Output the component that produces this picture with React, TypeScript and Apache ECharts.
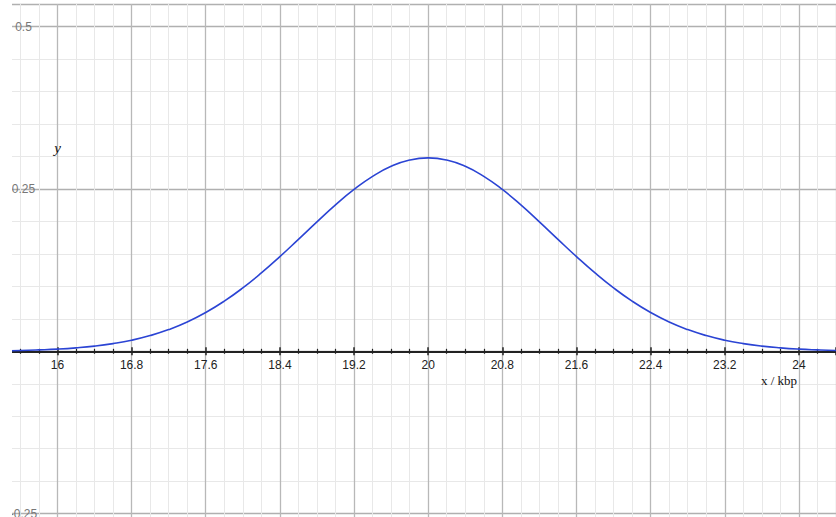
import React, { useEffect, useRef } from "react";
import * as echarts from "echarts";

// x positions (kbp) and curve values
const xValues = [
  15.4, 15.6, 15.8, 16.0, 16.2, 16.4, 16.6, 16.8, 17.0, 17.2, 17.4, 17.6,
  17.8, 18.0, 18.2, 18.4, 18.6, 18.8, 19.0, 19.2, 19.4, 19.6, 19.8, 20.0,
  20.2, 20.4, 20.6, 20.8, 21.0, 21.2, 21.4, 21.6, 21.8, 22.0, 22.2, 22.4,
  22.6, 22.8, 23.0, 23.2, 23.4, 23.6, 23.8, 24.0, 24.2, 24.4, 24.6,
];
const yValues = [
  0.0008, 0.0013, 0.0022, 0.0034, 0.0053, 0.008, 0.0119, 0.0171, 0.0242,
  0.0335, 0.0452, 0.0598, 0.0773, 0.0977, 0.1207, 0.1459, 0.1725, 0.1994,
  0.2255, 0.2493, 0.2695, 0.285, 0.2947, 0.298, 0.2947, 0.285, 0.2695,
  0.2493, 0.2255, 0.1994, 0.1725, 0.1459, 0.1207, 0.0977, 0.0773, 0.0598,
  0.0452, 0.0335, 0.0242, 0.0171, 0.0119, 0.008, 0.0053, 0.0034, 0.0022,
  0.0013, 0.0008,
];
const xTickLabels = ["16", "16.8", "17.6", "18.4", "19.2", "20", "20.8", "21.6", "22.4", "23.2", "24"];
const yTickLabels = ["0.5", "0.25", "-0.25"];
const xAxisName = "x / kbp";
const yAxisName = "y";

export default function App() {
  const ref = useRef<HTMLDivElement>(null);
  useEffect(() => {
    if (!ref.current) return;
    const chart = echarts.init(ref.current, undefined, { renderer: "svg" });
    const data = xValues.map((x, i) => [x, yValues[i]]);
    const fmtX = (v: number) => {
      const s = String(Math.round(v * 10) / 10);
      return xTickLabels.includes(s) ? s : "";
    };
    const fmtY = (v: number) => {
      const s = String(Math.round(v * 100) / 100);
      return yTickLabels.includes(s) ? s : "";
    };
    const H = 517;
    const top = 4;
    const bottom = -158.9;
    const yMin = -0.5;
    const yMax = 0.535;
    // distance from the grid's bottom edge up to the value 0
    const zeroOffset = -((H - top - bottom) * (0 - yMin)) / (yMax - yMin);
    chart.setOption({
      animation: false,
      backgroundColor: "#ffffff",
      grid: {
        left: -16.7,
        right: 0,
        top,
        bottom,
        containLabel: false,
        outerBoundsMode: "none",
      },
      xAxis: [
        {
          type: "value",
          position: "bottom",
          offset: zeroOffset,
          min: 15.2,
          max: 24.4,
          interval: 0.8,
          axisLine: { show: true, onZero: false, lineStyle: { color: "#222", width: 2 } },
          axisTick: { show: true, inside: false, length: 4, lineStyle: { color: "#222", width: 1.5 } },
          minorTick: { show: true, splitNumber: 4, length: 2.5, lineStyle: { color: "#222", width: 1.2 } },
          axisLabel: {
            show: true,
            formatter: fmtX,
            color: "#222",
            fontSize: 12,
            fontFamily: "Liberation Sans, Arial, sans-serif",
            margin: 8,
          },
          splitLine: { show: true, lineStyle: { color: "#b8b8b8", width: 1.3 } },
          minorSplitLine: { show: true, lineStyle: { color: "#e8e8e8", width: 1 } },
        },
        {
          type: "value",
          position: "bottom",
          offset: zeroOffset,
          min: 15.2,
          max: 24.4,
          interval: 0.8,
          axisLine: { show: false, onZero: false },
          axisTick: { show: true, inside: true, length: 4, lineStyle: { color: "#222", width: 1.5 } },
          minorTick: { show: true, splitNumber: 4, length: 2.5, lineStyle: { color: "#222", width: 1.2 } },
          axisLabel: { show: false },
          splitLine: { show: false },
        },
      ],
      yAxis: {
        type: "value",
        min: yMin,
        max: yMax,
        interval: 0.25,
        axisLine: { show: false, onZero: false },
        axisTick: { show: false },
        axisLabel: {
          show: true,
          inside: true,
          align: "center",
          margin: 40.2,
          formatter: fmtY,
          color: "#777",
          fontSize: 12,
          padding: [0, 0, 3, 0],
          fontFamily: "Liberation Sans, Arial, sans-serif",
        },
        splitLine: { show: true, lineStyle: { color: "#b0b0b0", width: 1.3 } },
        minorTick: { show: false, splitNumber: 5 },
        minorSplitLine: { show: true, lineStyle: { color: "#e8e8e8", width: 1 } },
      },
      series: [
        {
          type: "line",
          data,
          smooth: true,
          showSymbol: false,
          symbol: "none",
          lineStyle: { color: "#2b44d4", width: 1.6 },
          z: 3,
        },
      ],
      graphic: [
        { type: "rect", left: 0, top: 0, shape: { width: 12, height: 517 }, style: { fill: "#ffffff" }, z: 100 },
        {
          type: "text",
          x: 779,
          y: 380,
          z: 101,
          style: {
            text: xAxisName,
            fill: "#111",
            font: "13px 'Liberation Serif', 'DejaVu Serif', serif",
            textAlign: "center",
            textVerticalAlign: "middle",
          },
        },
        {
          type: "text",
          x: 57.5,
          y: 148,
          z: 101,
          style: {
            text: yAxisName,
            fill: "#111",
            font: "italic 15px 'Liberation Serif', 'DejaVu Serif', serif",
            textAlign: "center",
            textVerticalAlign: "middle",
          },
        },
      ],
    });
    return () => chart.dispose();
  }, []);
  return (
    <div
      ref={ref}
      style={{ position: "absolute", left: 0, top: 0, width: 836, height: 517 }}
    />
  );
}
